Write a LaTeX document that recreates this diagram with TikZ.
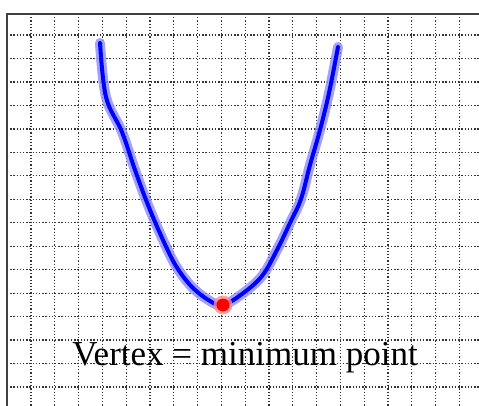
\documentclass[tikz,border=0pt]{standalone}
\usepackage{fontspec}
\setmainfont{Liberation Serif}
\usepackage{tikz}
\usetikzlibrary{calc}
\tikzset{
    gridline/.style={black!80, line width=1.3pt, dash pattern=on 1.3pt off 1.9pt},
    frameline/.style={black!75, line width=2pt},
    halo/.style={blue!45, opacity=0.8, line width=10pt, line cap=round, line join=round},
    curve/.style={blue, line width=4pt, line cap=round, line join=round},
    vertexdot/.style={circle, fill=red, inner sep=0pt, minimum size=13pt},
    caption/.style={font=\fontsize{35}{35}\selectfont, anchor=base, inner sep=0pt}
}

\begin{document}
\begin{tikzpicture}[x=1pt, y=-1pt]
            \useasboundingbox (0,0) rectangle (479,406);
            
            % grid
            \foreach \i in {0,...,18}
                \draw[gridline] ({31+23.8*\i},14) -- ({31+23.8*\i},406);
            \foreach \j in {0,...,15}
                \draw[gridline] (7,{35+23.47*\j}) -- (479,{35+23.47*\j});
            
            % frame
            \draw[frameline] (7,406) -- (7,14) -- (479,14);
            
            % parabola
            \coordinate (top left) at (100,43);
            \coordinate (top right) at (338,47);
            \foreach \s in {halo, curve}
                \draw[\s] plot[smooth, tension=0.6] coordinates {
                    (top left) (106,97) (122,132) (135,170) (148,205)
                    (163,240) (176,266) (192,287) (210,301) (223,305)
                    (242,294) (262,276) (277,250) (290,223) (301,199)
                    (310,165) (320,130) (329,93) (top right)};
            
            % minimum point
            \node[circle, fill=red!45, opacity=0.8, inner sep=0pt, minimum size=19pt] (glow) at (223,305) {};
            \node[vertexdot] (vertex) at (223,305) {};
            
            \node[caption] (label) at (245,365) {Vertex = minimum point};
        \end{tikzpicture}
\end{document}
